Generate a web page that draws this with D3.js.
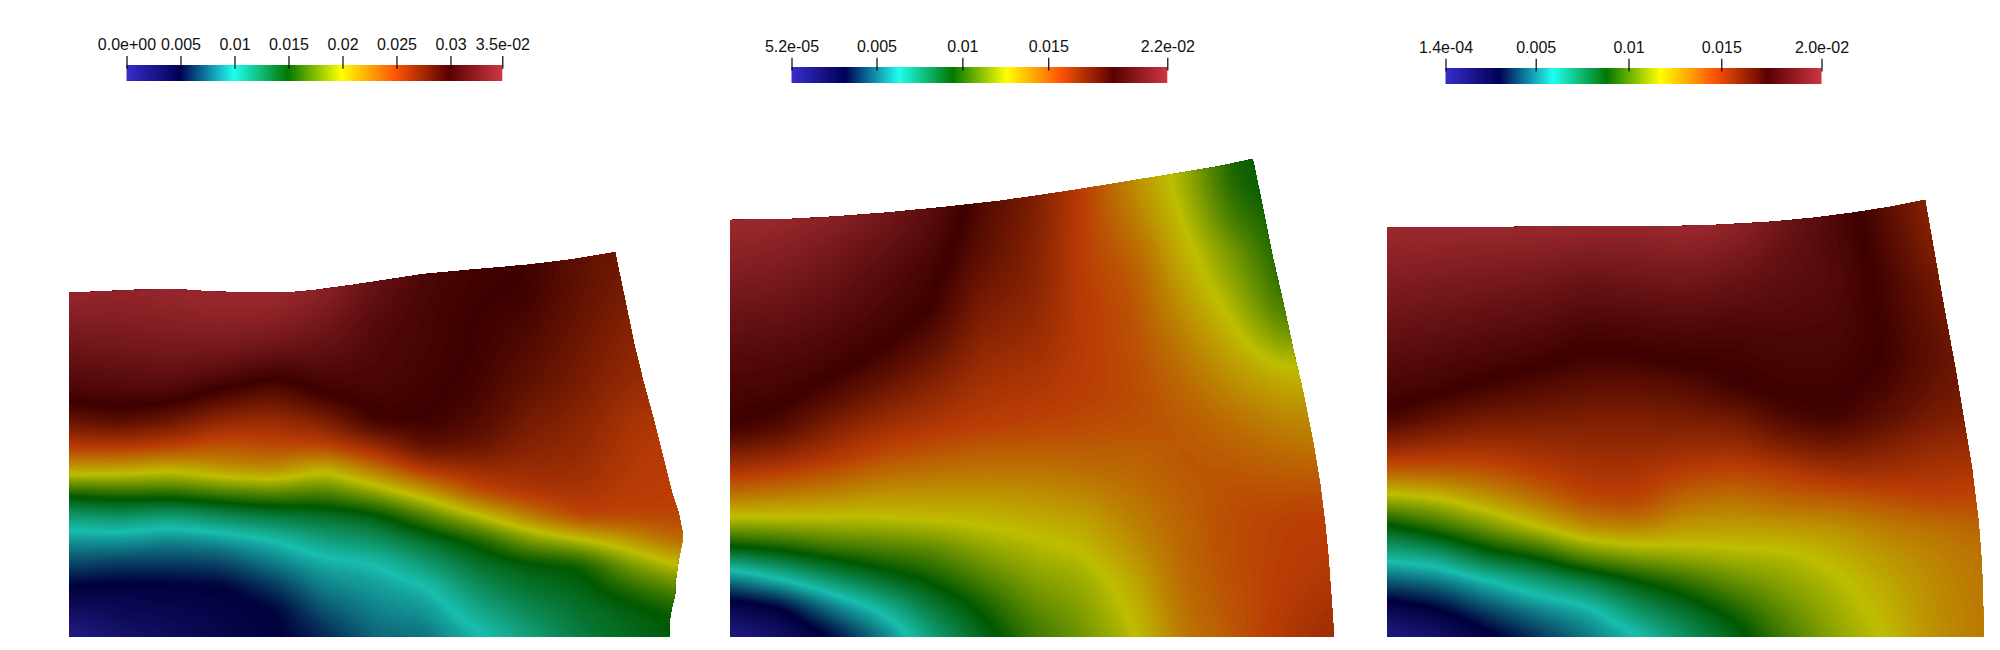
<!DOCTYPE html>
<html>
<head>
<meta charset="utf-8">
<title>Three strain fields</title>
<script src="https://cdn.jsdelivr.net/npm/d3@7"></script>
<style>
    body { margin: 0; background: #fff; }
    svg { display: block; }
    .tick text { font-family: "Liberation Sans", Arial, sans-serif; font-size: 16px; fill: #111; }
    .tick line { stroke: #000; stroke-width: 1.2px; }
</style>
</head>
<body>
<svg id="chart" width="2000" height="650"></svg>
<script>
// colour bar ranges and tick labels
var range1 = [0, 0.0348],
    range2 = [5.2e-5, 0.02193],
    range3 = [1.4e-4, 0.0204];
var ticks1 = [0, 0.005, 0.01, 0.015, 0.02, 0.025, 0.03, 0.0348],
    ticks2 = [5.2e-5, 0.005, 0.01, 0.015, 0.02193],
    ticks3 = [1.4e-4, 0.005, 0.01, 0.015, 0.0204];
var tickLabels1 = ["0.0e+00", "0.005", "0.01", "0.015", "0.02", "0.025", "0.03", "3.5e-02"],
    tickLabels2 = ["5.2e-05", "0.005", "0.01", "0.015", "2.2e-02"],
    tickLabels3 = ["1.4e-04", "0.005", "0.01", "0.015", "2.0e-02"];

// deformed mesh outlines, in mesh units from the bottom left corner
var outline1X = [0, 0, 26.6, 64, 105.4, 132.3, 175.9, 223.5, 246.3, 283.7, 354, 408, 457.8, 499.3, 546, 557.7, 566, 574.3, 584.3, 594.3, 602.7, 609.3, 613.3, 613.3, 609.3, 607, 606, 602.7, 601, 601],
    outline1Y = [0, 343.8, 344.8, 346.5, 347.5, 345.5, 343.8, 344.2, 346.5, 351.5, 362.2, 367.2, 371.5, 376.5, 384.2, 328.2, 288.2, 254.8, 218.2, 178.2, 144.8, 124.8, 104.8, 94.8, 74.8, 58.2, 41.5, 28.2, 18.2, 0];
var outline2X = [0, 0, 56.4, 103.4, 156.4, 213.6, 270, 345, 436.7, 486.7, 522.7, 533.3, 543.3, 553.3, 563.3, 573.3, 583.3, 590, 595, 598.3, 601.7, 604],
    outline2Y = [0, 416.7, 417.4, 420, 424, 429.4, 435.7, 446.7, 461.7, 470, 477.7, 426.7, 376.7, 333.4, 286.7, 243.4, 193.4, 153.4, 113.4, 80, 33.4, 0];
var outline3X = [0, 0, 120, 156.4, 236.8, 294.2, 328.6, 378.4, 428.1, 466.4, 504.6, 538, 548, 558, 568, 576.3, 584.7, 591.3, 594.7, 597],
    outline3Y = [0, 409, 409.4, 410.7, 410.7, 410.7, 411.7, 414.4, 419, 424, 430, 436.7, 380, 323.4, 270, 220, 170, 116.7, 73.4, 0];

// field, one list per column, top to bottom.
// written as position on the colour map: 0 blue, 1 navy, 2 cyan, 3 green, 4 yellow, 5 orange, 6 dark red, 7 red
var field1 = [
    [6.95, 6.95, 6.9, 6.7, 6.5, 6.3, 6.1, 5.7, 5.1, 4.3, 3.15, 2.35, 1.78, 1.38, 0.98, 0.56, 0.15],
    [6.9, 6.9, 6.85, 6.7, 6.55, 6.35, 6.15, 5.85, 5.15, 4.25, 3.25, 2.45, 1.8, 1.3, 0.93, 0.72, 0.5],
    [6.95, 6.95, 6.9, 6.75, 6.6, 6.4, 6.15, 5.65, 5.05, 4.12, 3.25, 2.3, 1.7, 1.3, 0.95, 0.8, 0.65],
    [7, 7, 6.95, 6.8, 6.6, 6.3, 5.87, 5.35, 4.85, 4.35, 3.4, 2.5, 1.8, 1.35, 0.98, 0.9, 0.85],
    [7, 7, 6.95, 6.75, 6.5, 6.1, 5.7, 5.28, 4.95, 4.45, 3.5, 2.65, 2, 1.63, 1.25, 0.98, 0.98],
    [6.85, 6.85, 6.75, 6.55, 6.4, 6.2, 6, 5.5, 5, 4.1, 3.4, 2.75, 2.3, 1.9, 1.67, 1.43, 1.2],
    [6.45, 6.45, 6.35, 6.25, 6.2, 6.17, 6.1, 6.03, 5.35, 4.6, 3.75, 2.9, 2.45, 2, 1.82, 1.68, 1.55],
    [6.15, 6.15, 6.12, 6.1, 6.1, 6.07, 6.04, 6.02, 5.8, 5.15, 4.25, 3.4, 2.77, 2.35, 1.97, 1.78, 1.6],
    [6.05, 6.05, 6.02, 6, 6, 5.98, 5.95, 5.87, 5.7, 5.3, 4.87, 3.95, 3.1, 2.75, 2.47, 2.2, 1.95],
    [6, 6, 5.98, 5.92, 5.85, 5.78, 5.68, 5.58, 5.45, 5.3, 5.12, 4.5, 3.63, 2.95, 2.75, 2.52, 2.3],
    [5.75, 5.75, 5.72, 5.68, 5.62, 5.58, 5.5, 5.42, 5.35, 5.28, 5.15, 4.96, 3.95, 3.05, 2.88, 2.75, 2.65],
    [5.6, 5.58, 5.52, 5.45, 5.4, 5.35, 5.25, 5.18, 5.12, 5.07, 5.03, 4.95, 4.3, 3.65, 3.2, 2.9, 2.85],
    [5.5, 5.45, 5.4, 5.35, 5.3, 5.25, 5.18, 5.05, 5, 5, 5, 4.95, 4.7, 4.05, 3.5, 3.1, 3]
];
var field2 = [
    [7, 7, 7, 6.85, 6.68, 6.5, 6.35, 6.2, 6.1, 6.02, 5.42, 4.77, 4.02, 2.98, 1.7, 0.8, 0.2],
    [6.95, 6.95, 6.95, 6.78, 6.62, 6.47, 6.3, 6.18, 6.08, 5.85, 5.3, 4.68, 4.02, 3.13, 2.1, 1, 0.55],
    [6.85, 6.85, 6.8, 6.62, 6.47, 6.33, 6.2, 6.08, 5.85, 5.47, 5.1, 4.58, 4.02, 3.33, 2.5, 1.65, 1],
    [6.65, 6.65, 6.55, 6.4, 6.27, 6.17, 6.07, 5.87, 5.55, 5.22, 4.87, 4.44, 4.02, 3.42, 2.85, 2.12, 1.6],
    [6.4, 6.4, 6.3, 6.18, 6.08, 6.02, 5.82, 5.58, 5.33, 5.08, 4.77, 4.42, 4.07, 3.52, 3.1, 2.68, 2.3],
    [5.9, 5.9, 5.82, 5.78, 5.66, 5.53, 5.4, 5.27, 5.13, 4.99, 4.7, 4.4, 4.1, 3.78, 3.43, 3.08, 2.85],
    [5.6, 5.55, 5.52, 5.48, 5.45, 5.38, 5.3, 5.18, 5.08, 4.95, 4.69, 4.43, 4.17, 3.93, 3.72, 3.5, 3.3],
    [5.1, 5.02, 5, 5, 5.02, 5.03, 5.03, 5.02, 5, 4.9, 4.72, 4.5, 4.25, 4.05, 3.85, 3.72, 3.6],
    [4.42, 4.42, 4.55, 4.7, 4.8, 4.85, 4.87, 4.9, 4.92, 4.85, 4.72, 4.62, 4.5, 4.37, 4.2, 4.08, 3.97],
    [3.85, 3.9, 4, 4.12, 4.23, 4.37, 4.5, 4.62, 4.72, 4.8, 4.82, 4.78, 4.72, 4.7, 4.67, 4.62, 4.55],
    [3.1, 3.18, 3.35, 3.6, 3.75, 3.92, 4.1, 4.3, 4.48, 4.65, 4.78, 4.85, 4.9, 4.9, 4.88, 4.85, 4.82],
    [3, 3, 3.05, 3.1, 3.2, 3.35, 3.65, 4.02, 4.3, 4.5, 4.68, 4.85, 4.98, 5, 5.02, 5.05, 5.1],
    [3, 3, 3, 3.1, 3.3, 3.55, 3.8, 4.05, 4.3, 4.45, 4.65, 4.85, 5, 5.05, 5.1, 5.2, 5.28]
];
var field3 = [
    [7, 7, 6.85, 6.7, 6.55, 6.4, 6.27, 6.13, 5.97, 5.38, 4.7, 3.8, 2.9, 2.18, 1.45, 0.77, 0.2],
    [6.97, 6.97, 6.82, 6.65, 6.5, 6.35, 6.2, 6.07, 5.72, 5.28, 4.72, 3.95, 3.25, 2.35, 1.6, 0.98, 0.5],
    [6.97, 6.97, 6.78, 6.6, 6.43, 6.27, 6.12, 5.93, 5.58, 5.23, 4.8, 4.28, 3.6, 2.85, 1.95, 1.38, 0.9],
    [6.97, 6.97, 6.75, 6.55, 6.38, 6.22, 6.05, 5.82, 5.55, 5.28, 5, 4.6, 4, 3.1, 2.3, 1.7, 1.25],
    [6.95, 6.95, 6.68, 6.45, 6.26, 6.08, 5.93, 5.73, 5.52, 5.32, 5.15, 4.92, 4.4, 3.55, 2.6, 1.92, 1.6],
    [6.92, 6.92, 6.7, 6.5, 6.3, 6.12, 5.95, 5.72, 5.5, 5.35, 5.15, 4.98, 4.5, 3.75, 2.97, 2.45, 1.95],
    [7, 7, 6.75, 6.55, 6.35, 6.15, 6.02, 5.78, 5.55, 5.3, 5, 4.65, 4.28, 3.85, 3.25, 2.8, 2.45],
    [6.85, 6.85, 6.65, 6.45, 6.28, 6.12, 6.05, 5.97, 5.6, 5.28, 4.92, 4.58, 4.27, 3.92, 3.55, 3.15, 2.87],
    [6.5, 6.5, 6.4, 6.32, 6.25, 6.17, 6.1, 6.05, 5.9, 5.5, 5.03, 4.7, 4.3, 3.95, 3.75, 3.55, 3.35],
    [6.2, 6.2, 6.22, 6.25, 6.2, 6.15, 6.1, 6.05, 5.98, 5.63, 5.2, 4.75, 4.35, 4.12, 3.95, 3.85, 3.75],
    [5.8, 5.85, 5.9, 5.95, 5.97, 6, 6, 5.92, 5.78, 5.5, 5.22, 4.85, 4.52, 4.32, 4.18, 4.1, 4.02],
    [5.35, 5.42, 5.5, 5.62, 5.68, 5.73, 5.75, 5.68, 5.55, 5.32, 5.15, 4.95, 4.6, 4.47, 4.42, 4.4, 4.38],
    [5.3, 5.3, 5.3, 5.35, 5.4, 5.45, 5.5, 5.52, 5.45, 5.3, 5.1, 4.92, 4.72, 4.6, 4.58, 4.55, 4.55]
];

// ParaView rainbow desaturated, bright on the bars and lit (darker) on the meshes
var barColors = ["#372dcd", "#000055", "#1effF0", "#007800", "#ffff00", "#ff5505", "#5a0000", "#cd3741"];
var meshColors = ["#2b2296", "#00003c", "#19beaf", "#005800", "#bebe00", "#ba3c05", "#3e0000", "#9e2a30"];

var panels = [
    {id: 1, range: range1, ticks: ticks1, labels: tickLabels1, field: field1, outX: outline1X, outY: outline1Y,
     left: 69, bottom: 636.5, meshW: 612, meshH: 384, barX: [126.5, 502.3], barY: 65, tickY: 68.7},
    {id: 2, range: range2, ticks: ticks2, labels: tickLabels2, field: field2, outX: outline2X, outY: outline2Y,
     left: 730, bottom: 636.7, meshW: 604.2, meshH: 477.4, barX: [791.5, 1167.3], barY: 67, tickY: 70.5},
    {id: 3, range: range3, ticks: ticks3, labels: tickLabels3, field: field3, outX: outline3X, outY: outline3Y,
     left: 1387, bottom: 636.7, meshW: 597, meshH: 436.7, barX: [1445.5, 1821.5], barY: 68, tickY: 71.5}
];

var svg = d3.select("#chart");
var defs = svg.append("defs");

panels.forEach(drawColorBar);
panels.forEach(drawMesh);

function drawColorBar(p) {
    var x = d3.scaleLinear().domain(p.range).range(p.barX);

    var grad = defs.append("linearGradient").attr("id", "bar" + p.id);
    barColors.forEach(function(c, i) {
        grad.append("stop").attr("offset", i / 7).attr("stop-color", c);
    });

    svg.append("rect")
        .attr("x", p.barX[0])
        .attr("y", p.barY)
        .attr("width", p.barX[1] - p.barX[0])
        .attr("height", 16)
        .attr("fill", "url(#bar" + p.id + ")");

    var axis = d3.axisTop(x)
        .tickValues(p.ticks)
        .tickFormat(function(d, i) { return p.labels[i]; })
        .tickSize(12.7)
        .tickPadding(6);

    var g = svg.append("g").attr("transform", "translate(0," + p.tickY + ")").call(axis);
    g.select(".domain").remove();
}

function drawMesh(p) {
    var mx = d3.scaleLinear().domain([0, p.meshW]).range([p.left, p.left + p.meshW]),
        my = d3.scaleLinear().domain([0, p.meshH]).range([p.bottom, p.bottom - p.meshH]);

    // colour stops sit evenly along the value range
    var step = (p.range[1] - p.range[0]) / 7;
    var color = d3.scaleLinear()
        .domain(meshColors.map(function(c, i) { return p.range[0] + i * step; }))
        .range(meshColors)
        .clamp(true);

    // resample the read values to a finer grid for the contouring, like the renderer shading between nodes
    var cols = p.field.length, rows = p.field[0].length;
    var nx = Math.round(p.meshW / 3), ny = Math.round(p.meshH / 3);
    var values = new Float64Array(nx * ny);
    for (var j = 0; j < ny; j++) {
        var v = j / (ny - 1) * (rows - 1), r0 = Math.min(Math.floor(v), rows - 2), fr = v - r0;
        for (var i = 0; i < nx; i++) {
            var u = i / (nx - 1) * (cols - 1), c0 = Math.min(Math.floor(u), cols - 2), fc = u - c0;
            var top = p.field[c0][r0] * (1 - fc) + p.field[c0 + 1][r0] * fc,
                low = p.field[c0][r0 + 1] * (1 - fc) + p.field[c0 + 1][r0 + 1] * fc;
            values[j * nx + i] = p.range[0] + (top * (1 - fr) + low * fr) * step;
        }
    }
    d3.blur2({data: values, width: nx, height: ny}, 2.5, 1.5);

    var thresholds = d3.range(0, 256).map(function(i) { return p.range[0] - step + i / 255 * (p.range[1] - p.range[0] + step); });
    var contours = d3.contours().size([nx, ny]).thresholds(thresholds)(values);

    var sx = d3.scaleLinear().domain([0.5, nx - 0.5]).range([p.left, p.left + p.meshW]),
        sy = d3.scaleLinear().domain([0.5, ny - 0.5]).range([p.bottom - p.meshH, p.bottom]);
    var path = d3.geoPath(d3.geoTransform({
        point: function(x, y) { this.stream.point(sx(x), sy(y)); }
    }));

    var outline = d3.line()
        .x(function(d) { return mx(d[0]); })
        .y(function(d) { return my(d[1]); })
        .curve(d3.curveLinearClosed);

    defs.append("clipPath").attr("id", "mesh" + p.id)
        .append("path")
        .attr("d", outline(d3.zip(p.outX, p.outY)));

    svg.append("g")
        .attr("clip-path", "url(#mesh" + p.id + ")")
        .selectAll("path")
        .data(contours.filter(function(c) { return c.coordinates.length > 0; }))
        .join("path")
        .attr("d", path)
        .attr("fill", function(d) { return color(d.value); });
}
</script>
</body>
</html>
